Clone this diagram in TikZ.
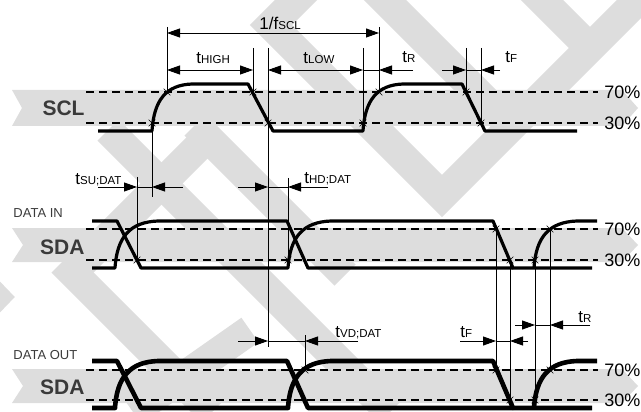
\documentclass[tikz,border=0pt]{standalone}
\usepackage{fontspec}
\setmainfont{Liberation Sans}
\usetikzlibrary{arrows.meta,shapes.misc}

\definecolor{wm}{RGB}{221,221,221}
\definecolor{sig}{RGB}{58,58,58}

\newcommand{\tsym}[2]{{\fontsize{17}{17}\selectfont #1}{\fontsize{11.5}{11.5}\selectfont #2}}

\begin{document}
\begin{tikzpicture}[x=1pt,y=-1pt,line width=0.9pt,
    band/.style={fill=wm,draw=none},
    stripe/.style={draw=wm,line width=30pt,line join=miter},
    lvl/.style={line width=1.2pt,dash pattern=on 8pt off 5pt},
    wave/.style={line width=3.2pt,line join=round},
    waveout/.style={line width=4.6pt,line join=round},
    xm/.style={cross out,draw,line width=0.6pt,minimum size=6pt,inner sep=0pt},
    dima/.style={-{Triangle[length=13pt,width=9pt]}},
    dimb/.style={{Triangle[length=13pt,width=9pt]}-{Triangle[length=13pt,width=9pt]}},
    pct/.style={anchor=west,inner sep=0pt,font=\fontsize{18}{18}\selectfont},
    sname/.style={anchor=base east,inner sep=0pt,text=sig,font=\fontsize{21}{21}\selectfont\bfseries},
    bus/.style={anchor=base west,inner sep=0pt,text=sig,font=\fontsize{13}{13}\selectfont},
    tlab/.style={anchor=base west,inner sep=0pt}]
  \useasboundingbox (0,0) rectangle (641,412);

  %watermark stripes
  \begin{scope}
  \clip (0,0) rectangle (641,412);
  \draw[stripe] (321,-25) -- (271,25) -- (442,196) -- (663,-25);
  \draw[stripe] (517,-25) -- (590,48);
  \draw[stripe] (360,-25) -- (512,127);
  \draw[stripe] (108,130) -- (390,412);
  \draw[stripe] (195,125) -- (345,275);
  \draw[stripe] (80,265) -- (215,130);
  \draw[stripe] (62,262) -- (212,412);
  \draw[stripe] (-80,220) -- (-6,297) -- (-80,374);
  \draw[stripe] (133,412) -- (250,330);
  \end{scope}

  %watermark bands
  \fill[band] (12,90) -- (622,90) -- (638,108) -- (622,126) -- (12,126) -- (22,108) -- cycle;
  \fill[band] (12,228) -- (622,228) -- (638,245) -- (622,262) -- (12,262) -- (23,245) -- cycle;
  \fill[band] (12,369) -- (622,369) -- (638,386) -- (622,403) -- (12,403) -- (23,386) -- cycle;

  %levels
  \foreach \ly/\pc in {92/70,123/30,229/70,260/30,370/70,400/30} {
    \draw[lvl] (86,\ly) -- (598,\ly);
    \node[pct] (p\ly) at (604,\ly) {\pc\%};
  }

  %signal names
  \node[sname] (scl) at (85,116) {SCL};
  \node[sname] (sdain) at (85,254) {SDA};
  \node[sname] (sdaout) at (85,394) {SDA};
  \node[bus] (datain) at (13,218) {DATA IN};
  \node[bus] (dataout) at (13,359) {DATA OUT};

  %scl
  \draw[wave] (98,131) -- (152,131) .. controls (154,100) and (166,85) .. (192,84) -- (248,84)
    -- (273,131) -- (363,131) .. controls (365,100) and (377,85) .. (403,84) -- (462,84)
    -- (485,131) -- (577,131);

  %sda in
  \draw[wave] (92,221) -- (117,221) -- (141,268) -- (288,268) .. controls (290,237) and (303,222) .. (331,221)
    -- (493,221) -- (513,268) -- (592,268);
  \draw[wave] (92,268) -- (115,268) .. controls (117,237) and (130,222) .. (158,221) -- (287,221)
    -- (308,268) -- (513,268);
  \draw[wave] (534,268) .. controls (536,237) and (549,222) .. (577,221) -- (597,221);

  %sda out
  \begin{scope}[yshift=-140pt]
  \draw[waveout] (92,221) -- (117,221) -- (141,268) -- (288,268) .. controls (290,237) and (303,222) .. (331,221)
    -- (493,221) -- (513,268) -- (592,268);
  \draw[waveout] (92,268) -- (115,268) .. controls (117,237) and (130,222) .. (158,221) -- (287,221)
    -- (308,268) -- (513,268);
  \draw[waveout] (534,268) .. controls (536,237) and (549,222) .. (577,221) -- (597,221);
  \end{scope}

  %crossings
  \node[xm] (s1) at (152,123) {};
  \node[xm] (s2) at (167,92) {};
  \node[xm] (s3) at (253,92) {};
  \node[xm] (s4) at (268,123) {};
  \node[xm] (s5) at (363,123) {};
  \node[xm] (s6) at (379,92) {};
  \node[xm] (s7) at (466,92) {};
  \node[xm] (s8) at (481,123) {};
  \node[xm] (d1) at (137,260) {};
  \node[xm] (d2) at (288,260) {};
  \node[xm] (d3) at (496,229) {};
  \node[xm] (d4) at (510,260) {};
  \node[xm] (d5) at (535,260) {};
  \node[xm] (d6) at (550,229) {};
  \node[xm] (o1) at (305,370) {};
  \node[xm] (o2) at (496,370) {};
  \node[xm] (o3) at (510,400) {};
  \node[xm] (o4) at (535,400) {};
  \node[xm] (o5) at (550,370) {};

  %guide ends
  \coordinate (top1) at (0,27);
  \coordinate (top2) at (0,48);
  \coordinate (su) at (0,177);
  \coordinate (hd) at (0,178);
  \coordinate (vd) at (0,335);
  \coordinate (low1) at (0,197);
  \coordinate (low2) at (0,347);

  %guides
  \draw (s2.center |- top1) -- (s2.center);
  \draw (s6.center |- top1) -- (s6.center);
  \draw (s3.center |- top2) -- (s3.center);
  \draw (s4.center |- top2) -- (s4.center |- low2);
  \draw (s5.center |- top2) -- (s5.center);
  \draw (s7.center |- top2) -- (s7.center);
  \draw (s8.center |- top2) -- (s8.center);
  \draw (s1.center) -- (s1.center |- low1);
  \draw (d1.center |- su) -- (d1.center);
  \draw (d2.center |- hd) -- (d2.center);
  \draw (o1.center |- vd) -- (o1.center);
  \draw (d3.center) -- (o2.center);
  \draw (d4.center) -- (o3.center);
  \draw (d5.center) -- (o4.center);
  \draw (d6.center) -- (o5.center);

  %dimension arrows
  \draw[dimb] (167,33) -- (379,33);
  \draw[dimb] (167,70) -- (253,70);
  \draw[dimb] (268,70) -- (363,70);
  \draw (363,70) -- (379,70);
  \draw[dima] (413,70) -- (379,70);
  \draw[dima] (442,70) -- (466,70);
  \draw (466,70) -- (481,70);
  \draw[dima] (500,70) -- (481,70);
  \draw[dima] (98,187) -- (137,187);
  \draw (137,187) -- (152,187);
  \draw[dima] (183,187) -- (152,187);
  \draw[dima] (238,187) -- (268,187);
  \draw (268,187) -- (288,187);
  \draw[dima] (328,187) -- (288,187);
  \draw[dima] (238,341) -- (268,341);
  \draw (268,341) -- (305,341);
  \draw[dima] (358,341) -- (305,341);
  \draw[dima] (460,341) -- (496,341);
  \draw (496,341) -- (510,341);
  \draw[dima] (528,341) -- (510,341);
  \draw[dima] (515,325) -- (535,325);
  \draw (535,325) -- (550,325);
  \draw[dima] (590,325) -- (550,325);

  %timing labels
  \node[tlab] (fscl) at (259,30) {\tsym{1/f}{SCL}};
  \node[tlab] (thigh) at (196,64) {\tsym{t}{HIGH}};
  \node[tlab] (tlow) at (303,64) {\tsym{t}{LOW}};
  \node[tlab] (tr1) at (402,63) {\tsym{t}{R}};
  \node[tlab] (tf1) at (505,63) {\tsym{t}{F}};
  \node[tlab] (tsu) at (75,185) {\tsym{t}{SU;DAT}};
  \node[tlab] (thd) at (304,183) {\tsym{t}{HD;DAT}};
  \node[tlab] (tvd) at (335,337) {\tsym{t}{VD;DAT}};
  \node[tlab] (tf2) at (460,337) {\tsym{t}{F}};
  \node[tlab] (tr2) at (578,322) {\tsym{t}{R}};
\end{tikzpicture}
\end{document}
